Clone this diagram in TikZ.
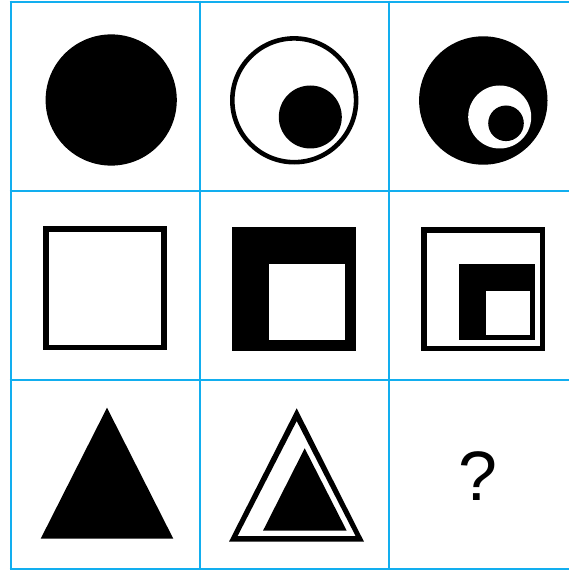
\documentclass[tikz,border=0pt]{standalone}
\usepackage{fontspec}
\setmainfont{Liberation Sans}
\definecolor{gridblue}{HTML}{12AEEF}
\begin{document}
\begin{tikzpicture}[x=1pt,y=-1pt,
  gridline/.style={draw=gridblue,line width=2pt},
  blackfill/.style={fill=black,draw=none},
  whitefill/.style={fill=white,draw=none},
  outline/.style={draw=black,line width=5pt,fill=none}]
\useasboundingbox (0,0) rectangle (569,572);
\fill[white] (0,0) rectangle (569,572);
% grid
\foreach \x in {10.5,199.5,388.5} \draw[gridline] (\x,0.7) -- (\x,570);
\foreach \y in {1.8,190.5,380,569} \draw[gridline] (9.5,\y) -- (569,\y);
% row 1
\fill[blackfill] (111.2,100) circle (65.6);
\draw[draw=black,line width=4.6pt] (294.2,100.3) circle (61.9);
\fill[blackfill] (310.3,117) circle (31.5);
\fill[blackfill] (483.3,100.5) circle (64.2);
\fill[whitefill] (499.7,117) circle (31.5);
\fill[blackfill] (506,123.3) circle (17.8);
% row 2
\draw[outline,line width=5.5pt,miter limit=10] (46.1,229.1) rectangle (164.2,347.5);
\fill[blackfill] (232,227) rectangle (356,351);
\fill[whitefill] (268.7,264) rectangle (345,340);
\draw[outline,line width=5.5pt] (423.75,229.75) rectangle (542.25,348.25);
\fill[blackfill] (458.7,264) rectangle (535,340);
\fill[whitefill] (485.7,290.7) rectangle (530,335);
% row 3
\fill[blackfill] (107,407.7) -- (40.7,538.7) -- (173.3,538.7) -- cycle;
\fill[black,even odd rule] (296.7,408.3) -- (229,541.7) -- (364,541.7) -- cycle
  (296.7,421) -- (237.6,536) -- (355.6,536) -- cycle;
\fill[blackfill] (304.7,448.3) -- (263,530.7) -- (346.7,530.7) -- cycle;
\node[font=\fontsize{70}{70}\selectfont,inner sep=0pt,anchor=base] (q) at (478.3,500) {?};
\end{tikzpicture}
\end{document}
